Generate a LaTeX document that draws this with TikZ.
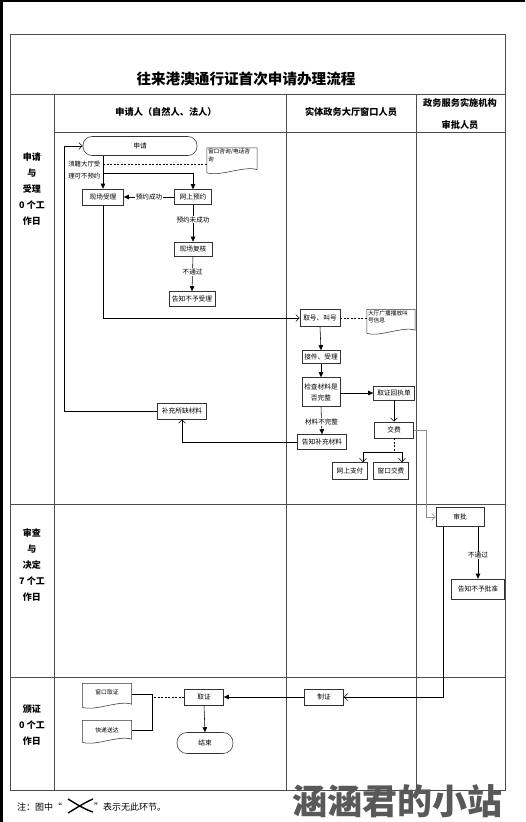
\documentclass[tikz,border=0pt]{standalone}
\usepackage{fontspec}
\setmainfont{Noto Sans CJK SC}
\usetikzlibrary{arrows.meta,calc}
\newcommand\docshape[1]{%
  \draw[draw=black!80,line width=0.55pt,fill=white] (#1.north west) -- (#1.north east) -- ($(#1.south east)+(0,-2.5)$)
    .. controls ($(#1.south)!0.5!(#1.south east)+(0,-7)$) and ($(#1.south)!0.5!(#1.south west)+(0,5)$) .. ($(#1.south west)+(0,0.5)$) -- cycle;}
\begin{document}
\begin{tikzpicture}[x=1pt,y=-1pt,
  tbl/.style={draw=black!70,line width=0.7pt},
  flowbox/.style={draw=black!80,line width=0.55pt,fill=white,inner sep=0.5pt,font=\fontsize{6.7}{8}\selectfont},
  term/.style={flowbox,rounded corners=9pt},
  docnode/.style={inner sep=0pt,draw=none},
  doctext/.style={inner sep=1pt,font=\fontsize{5.7}{7.5}\selectfont,align=left,anchor=north west},
  lbl/.style={fill=white,inner sep=0.6pt,font=\fontsize{6.6}{8}\selectfont},
  fl/.style={draw=black,line width=0.55pt},
  farr/.style={fl,-{Triangle[length=5pt,width=4.5pt]}},
  oarr/.style={fl,-{Straight Barb[length=3.5pt,width=7pt]}},
  dsh/.style={fl,dash pattern=on 2pt off 1.5pt},
  stagelbl/.style={font=\bfseries\fontsize{9}{16}\selectfont,align=center},
  hdr/.style={font=\bfseries\fontsize{9.2}{22}\selectfont,align=center}
]
\useasboundingbox (0,0) rectangle (525,822);
\fill[white] (0,0) rectangle (525,822);
\fill[black] (0,0) rectangle (2.5,822);
\fill[black] (0,0) rectangle (525,1.5);

% table
\draw[tbl] (10,34) rectangle (505,790);
\draw[tbl] (10,94) -- (505,94);
\draw[tbl] (54,132) -- (505,132);
\draw[tbl] (10,504) -- (505,504);
\draw[tbl] (10,677) -- (505,677);
\draw[tbl] (54,94) -- (54,790);
\draw[tbl] (286,94) -- (286,790);
\draw[tbl] (416,94) -- (416,790);

% titles
\node[font=\bfseries\fontsize{14.6}{16}\selectfont] (title) at (246,79) {往来港澳通行证首次申请办理流程};
\node[hdr] (h1) at (166,112) {申请人（自然人、法人）};
\node[hdr] (h2) at (351,112) {实体政务大厅窗口人员};
\node[hdr] (h3) at (460,114) {政务服务实施机构\\审批人员};
\node[stagelbl] (s1) at (32,189) {申请\\与\\受理\\0 个工\\作日};
\node[stagelbl] (s2) at (32,565) {审查\\与\\决定\\7 个工\\作日};
\node[stagelbl] (s3) at (32,725) {颁证\\0 个工\\作日};

% stage 1 nodes
\node[term,minimum width=114,minimum height=19] (apply) at (140,146) {申请};
\node[docnode,minimum width=50,minimum height=24] (doc1) at (232,160) {};
\docshape{doc1}
\node[doctext] (doc1t) at (doc1.north west) {窗口咨询/电话咨\\询};
\node[font=\fontsize{6.4}{8}\selectfont,inner sep=0.5pt,anchor=east] (c1) at (101,164) {须籍大厅受};
\node[font=\fontsize{6.4}{8}\selectfont,inner sep=0.5pt,anchor=east] (c2) at (101,176) {理可不预约};
\node[flowbox,minimum width=41,minimum height=16] (xcsl) at (103,197) {现场受理};
\node[flowbox,minimum width=37,minimum height=15] (wsyy) at (193,197) {网上预约};
\node[flowbox,minimum width=38,minimum height=14] (xcfh) at (193,249) {现场复核};
\node[flowbox,minimum width=46,minimum height=15] (gzbysl) at (192,299) {告知不予受理};

\node[flowbox,minimum width=40,minimum height=17] (qhjh) at (320,318) {取号、叫号};
\node[docnode,minimum width=48,minimum height=23] (doc2) at (391,321) {};
\docshape{doc2}
\node[doctext] (doc2t) at (doc2.north west) {大厅广播播放叫\\号信息};
\node[flowbox,minimum width=38,minimum height=13] (jjsl) at (321,357) {接件、受理};
\node[flowbox,minimum width=38,minimum height=29,align=center,font=\fontsize{6.7}{11}\selectfont] (jccl) at (321,392) {检查材料是\\否完整};
\node[flowbox,minimum width=41,minimum height=14] (qzhzd) at (394,393) {取证回执单};
\node[flowbox,minimum width=49,minimum height=15] (gzbccl) at (322,442) {告知补充材料};
\node[flowbox,minimum width=49,minimum height=16] (bcsqcl) at (182,411) {补充所缺材料};
\node[flowbox,minimum width=39,minimum height=16] (jf) at (394,430) {交费};
\node[flowbox,minimum width=35,minimum height=17] (wszf) at (350,471) {网上支付};
\node[flowbox,minimum width=35,minimum height=17] (ckjf) at (391,471) {窗口交费};

% stage 2
\node[flowbox,minimum width=48,minimum height=19] (sp) at (460,517) {审批};
\node[flowbox,minimum width=53,minimum height=20] (gzbypz) at (478,589) {告知不予批准};

% stage 3
\node[flowbox,minimum width=39,minimum height=16] (zz) at (324,697) {制证};
\node[flowbox,minimum width=39,minimum height=16] (qz) at (204,697) {取证};
\node[term,minimum width=56,minimum height=21,rounded corners=10pt] (js) at (205,743) {结束};
\node[docnode,minimum width=49,minimum height=23] (doc3) at (107,695) {};
\docshape{doc3}
\node[font=\fontsize{5.8}{7}\selectfont,inner sep=0pt] (doc3t) at (107,692) {窗口取证};
\node[docnode,minimum width=49,minimum height=21] (doc4) at (107,731) {};
\docshape{doc4}
\node[font=\fontsize{5.8}{7}\selectfont,inner sep=0pt] (doc4t) at (107,730) {快递送达};

% connectors stage 1
\coordinate (b0) at (103,164);
\coordinate (b1) at (103,173);
\draw[farr] (apply.south -| xcsl) -- (xcsl.north);
\draw[farr] (b1) -| (wsyy.north);
\draw[dsh] (b0) -- (b0 -| doc1.west);
\draw[farr] (wsyy.west) -- node[lbl] (l1) {预约成功} (xcsl.east);
\draw[farr] (wsyy.south) -- node[lbl,pos=0.4] (l2) {预约未成功} (xcfh.north);
\draw[farr] (xcfh.south) -- node[lbl,pos=0.45] (l3) {不通过} (gzbysl.north);
\draw[oarr] (xcsl.south) |- (qhjh.west);
\draw[dsh] (qhjh.east) -- (qhjh.east -| doc2.west);
\draw[farr] (qhjh.south) -- (jjsl.north);
\draw[farr] (jjsl.south) -- (jccl.north);
\draw[farr] (jccl.east |- qzhzd.west) -- (qzhzd.west);
\draw[farr] (jccl.south) -- node[lbl,pos=0.55] (l4) {材料不完整} (gzbccl.north);
\draw[oarr] (gzbccl.west) -| (bcsqcl.south);
\coordinate (r1) at (64,146);
\draw[oarr] (bcsqcl.west) -| (r1) -- (apply.west);
\draw[oarr] (qzhzd.south) -- (jf.north);
\coordinate (jsplit) at (394,452);
\draw[dsh] (jf.south) -- (jsplit);
\draw[oarr] (jsplit) -| ([xshift=13pt]wszf.north);
\draw[oarr] (jsplit) -| ([xshift=11pt]ckjf.north);
\coordinate (g1) at (426,430);
\draw[oarr,draw=black!45] (jf.east) -- (g1) |- (sp.west);

% stage 2 connectors
\draw[farr] ([xshift=18pt]sp.south) -- node[lbl,pos=0.55] (l5) {不通过} (gzbypz.north);
\draw[oarr] ([xshift=-17pt]sp.south) |- (zz.east);

% stage 3 connectors
\draw[farr] (zz.west) -- (qz.east);
\draw[farr] (qz.south) -- (js.north);
\coordinate (m1) at (152,697);
\coordinate (m2) at (152,694);
\coordinate (m3) at (152,730);
\draw[dsh] (qz.west) -- (m1);
\draw[fl] (m2 -| doc3.east) -- (m2) -- (m3) -- (m3 -| doc4.east);

% note
\node[anchor=west,font=\fontsize{9}{10}\selectfont,inner sep=0pt] (note1) at (17,807) {注：图中“};
\draw[line width=1.4pt] (68,799) .. controls (78,805) and (84,809) .. (93,812);
\draw[line width=1.4pt] (68,813) .. controls (78,807) and (84,803) .. (93,799);
\node[anchor=west,font=\fontsize{9}{10}\selectfont,inner sep=0pt] (note2) at (94,807) {”表示无此环节。};
\node[anchor=west,font=\bfseries\fontsize{35}{38}\selectfont,text=black!65,inner sep=0pt] (wm) at (292,801) {涵涵君的小站};
\end{tikzpicture}
\end{document}
